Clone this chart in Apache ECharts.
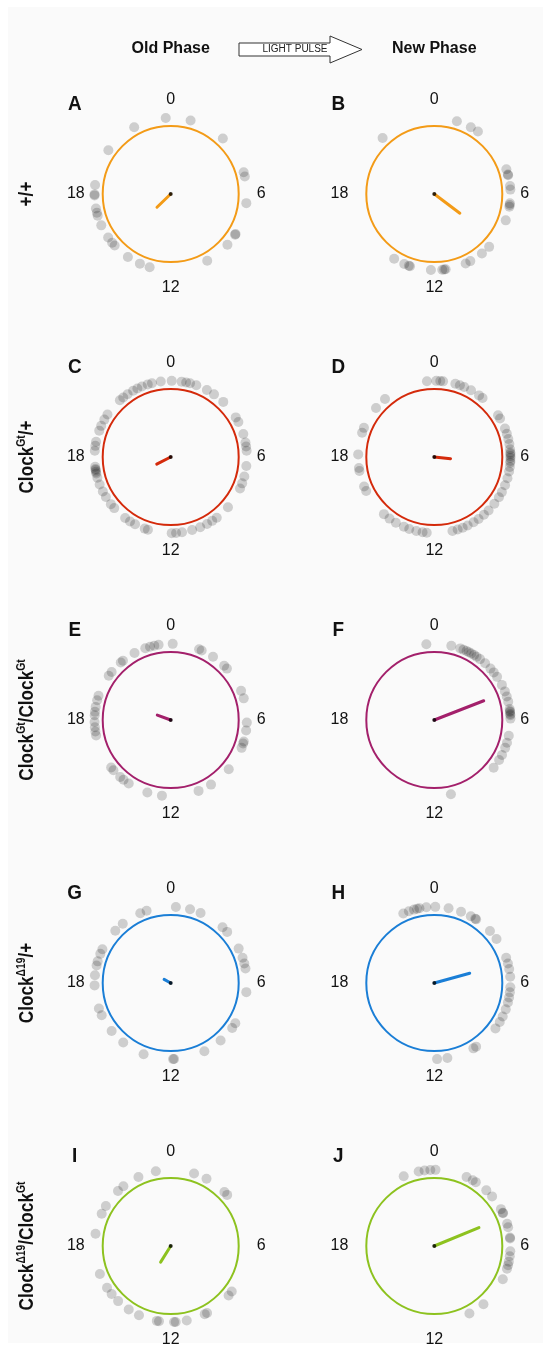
<!DOCTYPE html>
<html><head><meta charset="utf-8">
<script src="https://cdn.jsdelivr.net/npm/echarts@6/dist/echarts.min.js"></script>
<style>html,body{margin:0;padding:0;background:#fff}#c{width:551px;height:1350px}</style>
</head><body><div id="c"></div><script>
// ---- data ----
const panelLetters = ['A','B','C','D','E','F','G','H','I','J'];
const columnTitles = ['Old Phase', 'New Phase'];
const pulseLabel = 'LIGHT PULSE';
const genotypes = [
  ['+/+', ''],
  ['Clock', 'Gt', '/+'],
  ['Clock', 'Gt', '/Clock', 'Gt'],
  ['Clock', 'Δ19', '/+'],
  ['Clock', 'Δ19', '/Clock', 'Gt']
];
const hourTicks = [0, 6, 12, 18];
// individual phases (circadian hours, 0-24)
const dotsA = [23.75, 1.01, 22.09, 2.88, 20.34, 4.89, 5.11, 6.46, 18.45, 17.93, 17.98, 17.27, 17.05, 16.9, 16.38, 15.68, 15.35, 15.16, 14.28, 13.59, 13.07, 10.09, 8.79, 8.11, 8.15];
const dotsB = [21.15, 1.15, 1.91, 2.33, 4.74, 5.01, 5.05, 5.6, 5.78, 6.47, 6.55, 6.64, 7.35, 8.93, 9.42, 10.12, 10.38, 11.43, 11.5, 11.6, 12.17, 13.24, 13.3, 13.55, 14.12];
const dotsC = [21.21, 21.43, 21.7, 22.03, 22.27, 22.52, 22.83, 23.05, 23.5, 0.05, 0.55, 0.78, 0.98, 1.31, 1.89, 2.31, 2.91,
  3.91, 4.18, 4.83, 5.27, 5.47, 5.69, 6.45, 6.99, 7.35, 7.63, 8.75,
  9.52, 9.8, 10.1, 10.48, 10.91, 11.43, 11.73, 11.95,
  13.16, 13.33, 13.86, 14.15, 14.45, 15.19, 15.45, 15.89, 16.2,
  16.59, 16.95, 17.17, 17.34, 17.51, 17.25, 17.4, 18.31, 18.56, 18.77, 19.35, 19.61, 19.96, 20.26];
const dotsD = [23.63, 0.1, 0.3, 0.44, 1.07, 1.31, 1.54, 1.92, 2.4, 2.62, 3.79, 3.98, 4.54, 4.82, 5.09, 5.35, 5.61, 5.78, 5.85, 5.95, 6.05, 6.2, 6.29, 6.5,
  6.73, 7.08, 7.45, 7.83, 8.13, 8.53, 8.97, 9.29, 9.63, 9.93, 10.27, 10.54, 10.81, 11.08,
  12.38, 12.59, 12.91, 13.28, 13.57, 14.02, 14.4, 14.76, 16.23, 16.48, 17.29, 17.45, 18.13, 19.24, 19.5, 20.67, 21.31];
const dotsE = [0.1, 23.39, 23.17, 22.95, 22.7, 22.11, 21.41, 21.27, 20.61, 20.37, 19.24, 19.0, 18.66, 18.41, 18.24, 17.9, 17.64, 17.42, 17.22,
  15.43, 15.25, 14.77, 14.55, 14.23, 13.19, 12.44, 10.57, 9.87, 8.69, 7.43, 7.2, 7.09, 6.53, 6.13, 4.9, 4.5, 3.17, 2.97, 2.25, 1.6, 1.46];
const dotsF = [23.6, 0.86, 1.33, 1.5, 1.67, 1.8, 1.94, 2.1, 2.25, 2.46, 2.79, 3.17, 3.42, 3.7, 4.17, 4.53, 4.8, 5.07, 5.45, 5.55, 5.6, 5.7, 5.76, 5.93,
  6.8, 7.16, 7.43, 7.82, 8.11, 8.59, 11.16];
const dotsG = [0.26, 0.98, 1.54, 22.77, 22.43, 21.4, 20.89, 19.75, 19.5, 19.1, 18.89, 18.39, 17.88, 16.7, 16.33, 15.39, 14.57, 13.39, 11.83, 11.88,
  10.25, 9.27, 8.41, 8.13, 6.46, 5.27, 5.01, 4.71, 4.21, 3.19, 2.86];
const dotsH = [22.4, 22.7, 22.97, 23.13, 23.25, 23.6, 0.05, 0.72, 1.37, 1.91, 2.17, 2.22, 3.13, 3.65, 4.71, 5.01, 5.3, 5.69, 6.21, 6.47, 6.73, 6.99,
  7.35, 7.74, 8.05, 8.44, 9.78, 9.94, 11.34, 11.86];
const dotsI = [23.25, 22.33, 21.44, 21.08, 20.11, 19.67, 18.62, 16.56, 15.78, 15.39, 14.91, 14.23, 13.64, 12.59, 12.7, 11.83, 11.75, 11.19,
  10.23, 10.1, 8.7, 8.45, 3.19, 2.99, 1.87, 1.19];
const dotsJ = [22.42, 23.21, 23.51, 23.8, 0.06, 1.67, 2.02, 2.2, 2.87, 3.29, 4.07, 4.27, 4.3, 4.87, 5.05, 5.57, 5.62, 6.26, 6.52, 6.79, 6.97, 7.16,
  7.73, 9.32, 10.17];
const panelDots = [dotsA, dotsB, dotsC, dotsD, dotsE, dotsF, dotsG, dotsH, dotsI, dotsJ];
const meanPhase = [15.07, 8.46, 16.2, 6.4, 19.35, 4.58, 19.9, 4.97, 14.13, 4.51];
const meanLength = [0.28, 0.47, 0.23, 0.24, 0.21, 0.78, 0.11, 0.54, 0.28, 0.71];

// ---- styling / layout ----
const rowColors = ['#F39B17', '#D42A0B', '#A3206B', '#1A7ED6', '#8DC21F'];
const colX = [170.7, 434.3];
const rowY = [194, 457, 720, 983, 1246];
const RADIUS = 68;
const DOT_R = 1.12;
const FONT = "'Liberation Sans', Arial, sans-serif";

const polar = [], angleAxis = [], radiusAxis = [], series = [];
const graphic = [];
graphic.push({type: 'rect', shape: {x: 8, y: 7, width: 535, height: 1336}, style: {fill: '#fafafa'}, z: -10, silent: true});

for (let i = 0; i < 10; i++) {
  const row = Math.floor(i / 2), col = i % 2;
  const color = rowColors[row];
  polar.push({center: [colX[col], rowY[row]], radius: RADIUS});
  angleAxis.push({
    polarIndex: i, type: 'value', min: 0, max: 24, interval: 6, startAngle: 90, clockwise: true,
    axisLine: {lineStyle: {color: color, width: 2}},
    axisTick: {show: false}, splitLine: {show: false}, splitArea: {show: false},
    axisLabel: {margin: 18, fontSize: 16, color: '#111', fontFamily: FONT,
      formatter: v => (hourTicks.indexOf(v) >= 0 ? String(v) : '')}
  });
  radiusAxis.push({polarIndex: i, type: 'value', min: 0, max: 1,
    axisLine: {show: false}, axisTick: {show: false}, axisLabel: {show: false}, splitLine: {show: false}});
  series.push({
    type: 'scatter', coordinateSystem: 'polar', polarIndex: i, clip: false, silent: true,
    symbolSize: 10, itemStyle: {color: 'rgba(0,0,0,0.22)'},
    data: panelDots[i].map(h => [DOT_R, h]), z: 2
  });
  series.push({
    type: 'line', coordinateSystem: 'polar', polarIndex: i, symbol: 'none', silent: true,
    lineStyle: {color: color, width: 3, cap: 'round'},
    data: [[0, meanPhase[i]], [meanLength[i], meanPhase[i]]], z: 3
  });
  series.push({
    type: 'scatter', coordinateSystem: 'polar', polarIndex: i, silent: true,
    symbolSize: 4, itemStyle: {color: '#000'}, data: [[0, 0]], z: 4
  });
  graphic.push({type: 'text', x: colX[col] - 96, y: rowY[row] - 90, scaleX: 0.9, silent: true,
    style: {text: panelLetters[i], font: 'bold 21px ' + FONT, fill: '#111', align: 'center', verticalAlign: 'middle'}});
}

// header
graphic.push({type: 'text', x: colX[0], y: 49, silent: true,
  style: {text: columnTitles[0], font: 'bold 16px ' + FONT, fill: '#111', align: 'center', verticalAlign: 'middle'}});
graphic.push({type: 'text', x: colX[1], y: 49, silent: true,
  style: {text: columnTitles[1], font: 'bold 16px ' + FONT, fill: '#111', align: 'center', verticalAlign: 'middle'}});
graphic.push({type: 'polygon', silent: true,
  shape: {points: [[239, 43], [330, 43], [330, 36], [362, 49.5], [330, 63], [330, 56], [239, 56]]},
  style: {fill: '#fff', stroke: '#333', lineWidth: 1}});
graphic.push({type: 'text', x: 295, y: 49.5, silent: true,
  style: {text: pulseLabel, font: '10px ' + FONT, fill: '#222', align: 'center', verticalAlign: 'middle'}});

// row labels
genotypes.forEach((g, r) => {
  let txt = '';
  for (let k = 0; k < g.length; k++) {
    if (!g[k]) continue;
    txt += (k % 2 === 0 ? '{b|' : '{s|') + g[k] + '}';
  }
  graphic.push({type: 'text', x: 27, y: rowY[r], rotation: Math.PI / 2, scaleX: 0.86, silent: true,
    style: {text: txt, align: 'center', verticalAlign: 'middle', fill: '#111',
      rich: {
        b: {fontSize: 20, fontWeight: 'bold', fontFamily: FONT, fill: '#111', lineHeight: 22},
        s: {fontSize: 12, fontWeight: 'bold', fontFamily: FONT, fill: '#111', verticalAlign: 'top', lineHeight: 22, padding: [0, 0, 8, 0]}
      }}});
});

const chart = echarts.init(document.getElementById('c'), null, {renderer: 'canvas'});
chart.setOption({
  backgroundColor: '#fff',
  animation: false,
  polar, angleAxis, radiusAxis, series, graphic
});
</script></body></html>
